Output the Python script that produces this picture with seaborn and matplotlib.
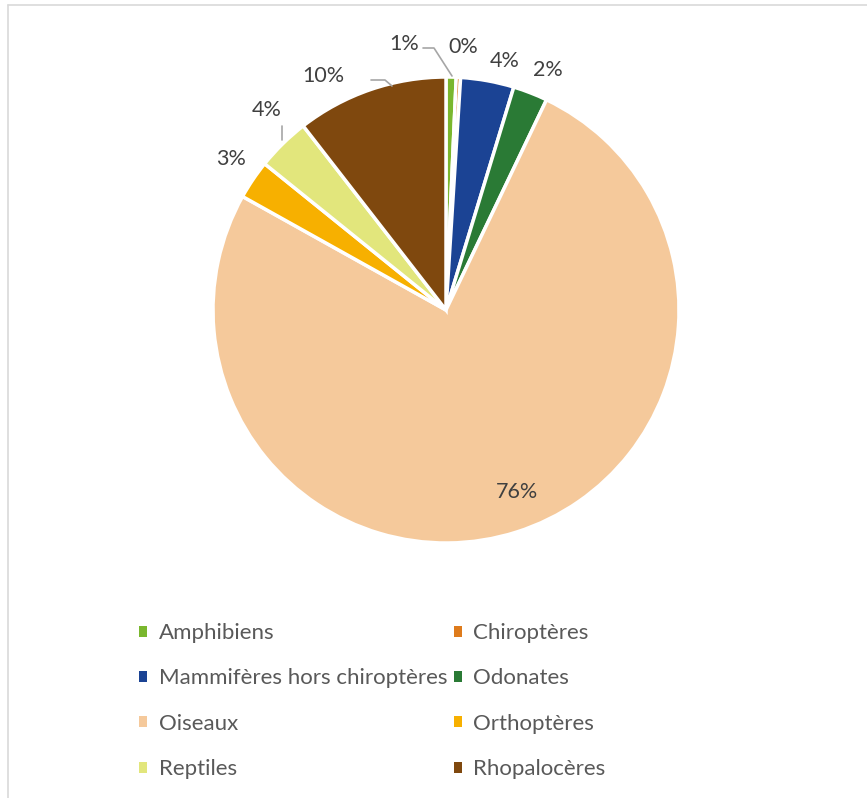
import matplotlib
matplotlib.use("Agg")
import matplotlib.pyplot as plt
import seaborn as sns
from matplotlib.patches import Patch
from matplotlib.lines import Line2D

sns.set_theme(style="white")
plt.rcParams['font.family'] = ['Lato', 'DejaVu Sans']

categories = ["Amphibiens", "Chiroptères", "Mammifères hors chiroptères", "Odonates",
              "Oiseaux", "Orthoptères", "Reptiles", "Rhopalocères"]
values = [0.7, 0.3, 3.7, 2.4, 76.0, 2.7, 3.7, 10.5]
labels = ["1%", "0%", "4%", "2%", "76%", "3%", "4%", "10%"]
colors = ["#7AB72E", "#DE7B1C", "#1B4394", "#2A7A35", "#F5C99B", "#F7B000", "#E2E67C", "#7F480E"]

# label placement (data units of the pie axes, radius = 1)
label_pos = [(-0.18, 1.142), (0.073, 1.129), (0.253, 1.069), (0.438, 1.030),
             (0.305, -0.781), (-0.923, 0.648), (-0.768, 0.858), (-0.528, 1.004)]

W, H = 867, 798
fig = plt.figure(figsize=(W / 100, H / 100), dpi=100)
fig.patch.set_facecolor("white")

cx, cy, R = 446, 310, 233
ax = fig.add_axes([(cx - R) / W, 1 - (cy + R) / H, 2 * R / W, 2 * R / H])
wedges, _ = ax.pie(values, colors=colors, startangle=90, counterclock=False,
                   radius=1, wedgeprops=dict(edgecolor="white", linewidth=2.5))
ax.set_xlim(-1, 1)
ax.set_ylim(-1, 1)
ax.set_aspect("equal")
ax.axis("off")

txtc = "#404040"
for lab, (x, y) in zip(labels, label_pos):
    ax.text(x, y, lab, ha="center", va="center", fontsize=15.5, color=txtc, clip_on=False)

lc = "#A6A6A6"
def px(xp, yp):
    return ((xp - cx) / R, (cy - yp) / R)
for pts in [[(423, 48), (434, 48), (452, 76)],
            [(371, 80), (385, 80), (392, 86)],
            [(282, 126), (282, 140)]]:
    xs, ys = zip(*[px(*p) for p in pts])
    ax.add_line(Line2D(xs, ys, color=lc, lw=1.2, clip_on=False))

# legend filled row by row (2 columns)
order = [0, 2, 4, 6, 1, 3, 5, 7]
handles = [Patch(facecolor=colors[i], edgecolor="none") for i in order]
names = [categories[i] for i in order]
leg = fig.legend(handles, names, ncol=2, loc="upper left",
                 bbox_to_anchor=(139 / W, 1 - 623 / H), frameon=False,
                 fontsize=16, handlelength=0.38, handleheight=0.38,
                 handletextpad=0.5, columnspacing=0.3, labelspacing=1.14,
                 borderaxespad=0, borderpad=0)
for t in leg.get_texts():
    t.set_color("#595959")

# outer chart border
fig.add_artist(Line2D([8 / W, 1], [1 - 5 / H, 1 - 5 / H], color="#D9D9D9", lw=1.2, transform=fig.transFigure))
fig.add_artist(Line2D([8 / W, 8 / W], [0, 1 - 5 / H], color="#D9D9D9", lw=1.2, transform=fig.transFigure))

fig.savefig("out.png", dpi=100, facecolor="white")
